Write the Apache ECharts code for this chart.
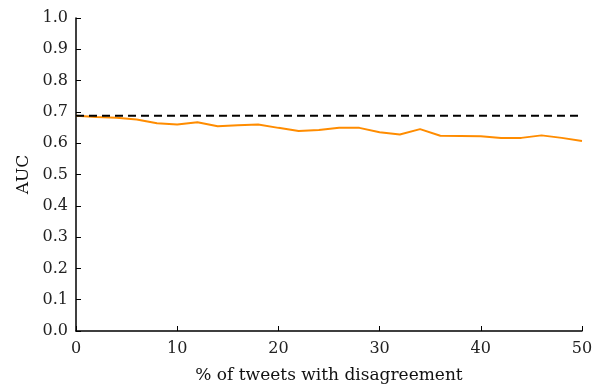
<!DOCTYPE html>
<html>
<head>
<meta charset="utf-8">
<script src="https://cdn.jsdelivr.net/npm/echarts@6/dist/echarts.min.js"></script>
<style>html,body{margin:0;padding:0;background:#fff}#c{width:601px;height:386px}</style>
</head>
<body>
<div id="c"></div>
<script>
const xValues = [0,2,4,6,8,10,12,14,16,18,20,22,24,26,28,30,32,34,36,38,40,42,44,46,48,50];
const aucValues = [0.688,0.684,0.681,0.676,0.664,0.660,0.667,0.654,0.657,0.660,0.649,0.639,0.642,0.649,0.649,0.635,0.628,0.645,0.624,0.623,0.622,0.617,0.617,0.625,0.617,0.607];
const baselineAUC = 0.688;
const baselineX = [0, 50];

const font = '"DejaVu Serif", "Liberation Serif", serif';
const chart = echarts.init(document.getElementById('c'), null, {renderer: 'canvas'});
chart.setOption({
  animation: false,
  backgroundColor: '#fff',
  grid: {left: 76, right: 19, top: 18, bottom: 55, containLabel: false, outerBoundsMode: 'none'},
  xAxis: {
    type: 'value', min: 0, max: 50, interval: 10,
    name: '% of tweets with disagreement', nameLocation: 'middle', nameGap: 36,
    nameTextStyle: {fontFamily: font, fontSize: 17, color: '#111'},
    axisLine: {show: true, onZero: false, lineStyle: {color: '#000', width: 1.5}},
    axisTick: {show: true, inside: true, length: 5, lineStyle: {color: '#000', width: 1}},
    axisLabel: {fontFamily: font, fontSize: 16, color: '#222', margin: 10},
    splitLine: {show: false}
  },
  yAxis: {
    type: 'value', min: 0, max: 1.0, interval: 0.1,
    name: 'AUC', nameLocation: 'middle', nameGap: 43, nameRotate: 90,
    nameTextStyle: {fontFamily: font, fontSize: 17, color: '#111'},
    axisLine: {show: true, onZero: false, lineStyle: {color: '#000', width: 1.5}},
    axisTick: {show: true, inside: true, length: 5, lineStyle: {color: '#000', width: 1}},
    axisLabel: {fontFamily: font, fontSize: 16, color: '#222', margin: 8, formatter: v => v.toFixed(1)},
    splitLine: {show: false}
  },
  series: [
    {
      type: 'line',
      data: baselineX.map(x => [x, baselineAUC]),
      symbol: 'none',
      lineStyle: {color: '#000', width: 2, type: [8, 5]},
      z: 3
    },
    {
      type: 'line',
      data: xValues.map((x, i) => [x, aucValues[i]]),
      symbol: 'none',
      lineStyle: {color: '#ff8c00', width: 2},
      z: 2
    }
  ]
});
</script>
</body>
</html>
